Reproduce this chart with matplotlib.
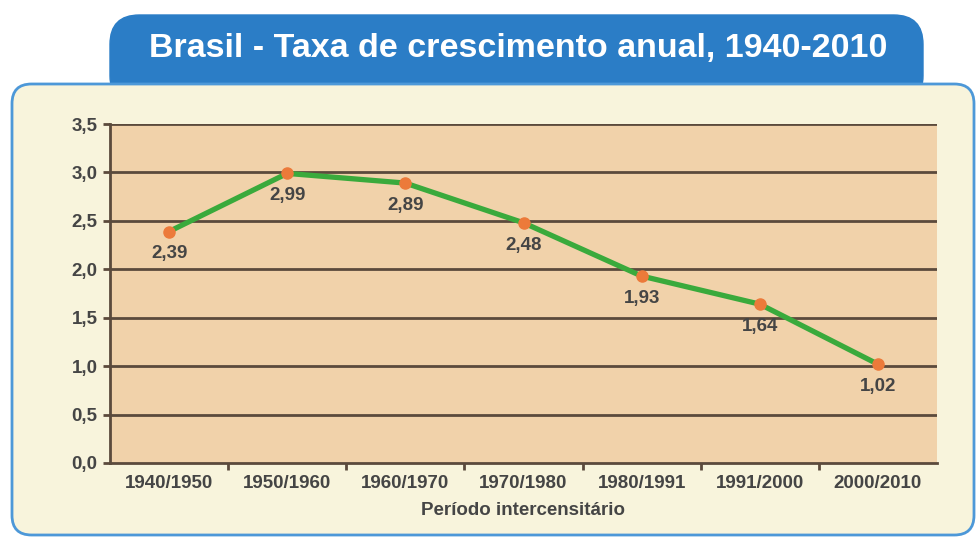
import matplotlib
matplotlib.use('Agg')
import matplotlib.pyplot as plt
from matplotlib.patches import FancyBboxPatch

# data
periods = ['1940/1950', '1950/1960', '1960/1970', '1970/1980',
           '1980/1991', '1991/2000', '2000/2010']
rates = [2.39, 2.99, 2.89, 2.48, 1.93, 1.64, 1.02]
yticks = [0.0, 0.5, 1.0, 1.5, 2.0, 2.5, 3.0, 3.5]
title = 'Brasil - Taxa de crescimento anual, 1940-2010'
xlabel = 'Período intercensitário'

W, H = 979, 538
fig = plt.figure(figsize=(W/100, H/100), dpi=100)
fig.patch.set_facecolor('white')

def px(x, y, w, h):
    """ pixel box (top-left origin) -> figure fraction """
    return x/W, 1 - (y+h)/H, w/W, h/H

# title tab
x0, y0, w0, h0 = px(110, 15, 813, 90)
fig.patches.append(FancyBboxPatch((x0, y0), w0, h0, boxstyle='round,pad=0,rounding_size=0.03',
                                  transform=fig.transFigure, facecolor='#2b7dc6',
                                  edgecolor='#2b7dc6', lw=1, mutation_aspect=W/H, zorder=0))
# panel
x1, y1, w1, h1 = px(12, 84, 962, 451)
fig.patches.append(FancyBboxPatch((x1, y1), w1, h1, boxstyle='round,pad=0,rounding_size=0.02',
                                  transform=fig.transFigure, facecolor='#f8f4dc',
                                  edgecolor='#4d98d8', lw=2, mutation_aspect=W/H, zorder=1))

fig.text(518/W, 1 - 49/H, title, ha='center', va='center', color='white',
         fontsize=24.5, fontweight='bold', family='Liberation Sans')

ax = fig.add_axes([110/W, 1 - 463/H, (937-110)/W, (463-124)/H])
ax.set_facecolor('#f1d2aa')
ax.set_zorder(2)
x = list(range(len(periods)))
ax.set_xlim(-0.5, len(periods) - 0.5)
ax.set_ylim(0, 3.5)

grid_c = '#5b4a3c'
txt_c = '#454545'
for v in yticks[1:]:
    ax.axhline(v, color=grid_c, lw=2, zorder=1)

ax.plot(x, rates, color='#3aaa3c', lw=3.8, zorder=3, solid_capstyle='round')
ax.plot(x, rates, 'o', color='#ec7a3a', ms=8, zorder=4)
for xi, r in zip(x, rates):
    ax.annotate(('%.2f' % r).replace('.', ','), (xi, r), xytext=(0, -16),
                textcoords='offset points', ha='center', va='center',
                fontsize=13.5, fontweight='bold', color=txt_c, zorder=5,
                family='Liberation Sans')

for s in ['top', 'right']:
    ax.spines[s].set_visible(False)
for s in ['left', 'bottom']:
    ax.spines[s].set_color(grid_c)
    ax.spines[s].set_linewidth(2)

ax.set_yticks(yticks)
ax.set_yticklabels([('%.1f' % v).replace('.', ',') for v in yticks])
ax.set_xticks(x)
ax.set_xticklabels(periods)
ax.set_xticks([i + 0.5 for i in x[:-1]], minor=True)
ax.tick_params(axis='x', which='major', length=0, pad=9)
ax.tick_params(axis='x', which='minor', length=5, width=2, color=grid_c, direction='out')
ax.tick_params(axis='y', length=5, width=2, color=grid_c, pad=4)
for lab in ax.get_xticklabels() + ax.get_yticklabels():
    lab.set_fontweight('bold')
    lab.set_color(txt_c)
    lab.set_fontsize(13.5)
    lab.set_family('Liberation Sans')
ax.set_xlabel(xlabel, fontsize=13.5, fontweight='bold', color=txt_c,
              family='Liberation Sans', labelpad=7)

fig.savefig('out.png', dpi=100)
